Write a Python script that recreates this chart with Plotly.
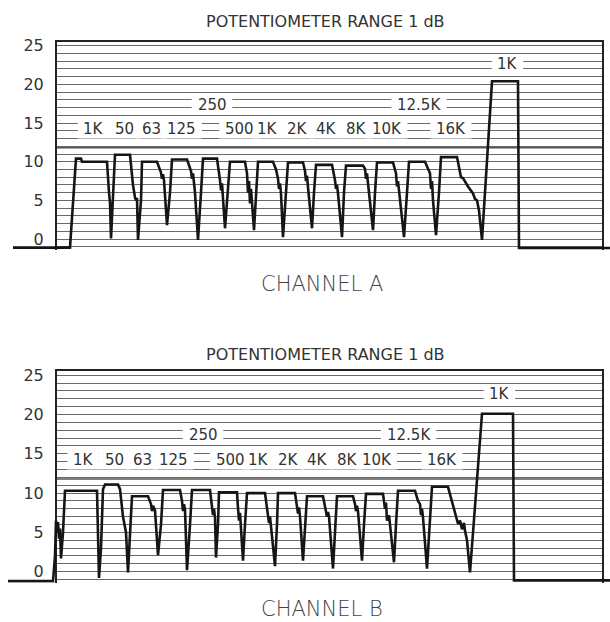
import plotly.graph_objects as go

# ---------------- data (x = chart travel, y = dB) ----------------
band_labels = ["1K", "50", "63", "125", "250", "500", "1K", "2K", "4K", "8K", "10K", "12.5K", "16K", "1K"]

a_band_start = [76, 115, 142, 172, 203, 230, 258, 288, 316, 346, 377, 409, 441, 493]
a_band_end = [107, 130, 157, 187, 217, 245, 273, 303, 332, 363, 393, 425, 457, 518]
b_band_start = [65, 105, 132, 163, 192, 219, 247, 278, 307, 337, 366, 398, 432, 482]
b_band_end = [97, 120, 148, 180, 210, 237, 265, 295, 323, 353, 383, 415, 448, 513]

trace_a_x = [13, 70, 76, 81, 82, 107, 109, 110, 111,
             113, 115, 130, 133, 135, 136, 137, 138,
             141, 142, 157, 160, 161, 162, 163, 164, 167,
             170, 172, 187, 189, 191, 192, 193, 195, 198,
             201, 203, 217, 219, 220, 221, 222, 225,
             228, 230, 245, 247, 248, 249, 250, 251, 254,
             256, 258, 273, 276, 278, 279, 280, 281, 283,
             286, 288, 303, 305, 306, 307, 308, 312,
             314, 316, 332, 334, 335, 336, 337, 338, 342,
             344, 346, 363, 365, 366, 367, 368, 373,
             375, 377, 393, 395, 396, 397, 398, 399, 404,
             407, 409, 425, 428, 430, 431, 432, 433, 436,
             439, 441, 457, 460, 461, 463, 468, 473, 475, 477, 478, 479, 482,
             487, 492, 518, 519, 610]
trace_a_y = [-1.1, -1.1, 10.4, 10.4, 10.0, 10.0, 6.0, 4.7, 0.1,
             6.0, 10.9, 10.9, 7.0, 5.4, 5.0, 5.3, -0.1,
             5.0, 10.0, 10.0, 9.0, 8.6, 7.8, 8.4, 7.6, 1.8,
             6.0, 10.3, 10.3, 9.6, 8.8, 7.8, 8.5, 6.0, -0.1,
             6.0, 10.4, 10.4, 8.8, 7.6, 6.3, 7.2, 1.4,
             6.0, 10.0, 10.0, 8.5, 6.0, 7.5, 4.6, 6.5, 1.15,
             6.0, 10.0, 10.0, 9.0, 7.8, 6.5, 7.2, 5.9, 0.25,
             6.0, 9.9, 9.9, 8.8, 7.5, 8.2, 6.7, 1.4,
             6.0, 9.6, 9.6, 8.5, 7.6, 6.5, 7.0, 5.9, 0.25,
             6.0, 9.5, 9.5, 9.1, 7.8, 8.5, 7.2, 1.15,
             6.0, 9.9, 9.9, 8.8, 8.5, 6.8, 7.5, 6.3, 0.25,
             6.0, 10.0, 10.0, 9.0, 8.5, 6.5, 7.5, 5.0, 0.5,
             6.0, 10.6, 10.6, 8.8, 8.0, 7.9, 6.8, 5.9, 5.2, 5.0, 4.2, 3.7, -0.1,
             10.0, 20.4, 20.4, -1.15, -1.15]

trace_b_x = [8, 53, 55, 56, 57, 58, 59, 60, 61, 63, 65, 97, 99,
             101, 103, 105, 118, 120, 123, 125, 126, 128,
             130, 132, 148, 151, 152, 153, 155, 158,
             161, 163, 180, 182, 183, 184, 185, 187,
             190, 192, 210, 212, 213, 214, 215, 216,
             218, 219, 237, 238, 239, 240, 241, 243,
             245, 247, 265, 268, 269, 270, 271, 275,
             277, 278, 295, 297, 298, 299, 300, 303,
             305, 307, 323, 326, 327, 328, 329, 333,
             335, 337, 353, 355, 356, 357, 358, 362,
             364, 366, 383, 384, 385, 386, 387, 389, 394,
             396, 398, 415, 418, 420, 421, 422, 423, 427,
             430, 432, 448, 452, 456, 458, 460, 462, 464, 465, 467, 470,
             476, 482, 513, 514, 610]
trace_b_y = [-1.2, -1.2, 2.0, 6.5, 5.0, 6.3, 4.2, 5.5, 1.7, 5.0, 10.3, 10.3, -0.8,
             3.0, 10.5, 11.1, 11.1, 10.5, 7.0, 5.5, 5.0, -0.1,
             5.0, 9.6, 9.6, 8.6, 7.7, 8.4, 7.8, 2.1,
             6.0, 10.4, 10.4, 9.0, 7.7, 8.6, 7.9, 0.2,
             6.0, 10.4, 10.4, 8.1, 7.2, 8.0, 6.9, 1.8,
             6.0, 10.1, 10.1, 8.1, 6.5, 7.5, 5.6, 1.4,
             6.0, 10.0, 10.0, 7.4, 6.2, 7.0, 5.6, 0.7,
             6.0, 10.0, 10.0, 8.6, 7.4, 8.2, 7.0, 1.4,
             6.0, 9.6, 9.6, 7.8, 7.0, 7.6, 7.0, 0.4,
             6.0, 9.6, 9.6, 8.6, 7.7, 8.4, 7.7, 1.4,
             6.0, 9.9, 9.9, 9.0, 8.0, 8.8, 6.5, 7.2, 1.2,
             6.0, 10.3, 10.3, 9.0, 8.6, 7.2, 8.0, 6.9, 0.4,
             6.0, 10.8, 10.8, 8.8, 7.0, 6.1, 6.5, 5.4, 6.2, 5.2, 4.0, -0.1,
             10.0, 20.1, 20.1, -1.1, -1.1]

y_ticks = [0, 5, 10, 15, 20, 25]
title_text = "POTENTIOMETER RANGE 1 dB"
channel_names = ["CHANNEL A", "CHANNEL B"]

# ---------------- styling ----------------
FONT = "DejaVu Sans"
INK = "#151515"
TXT = "#333333"
GRID = "#6a6a6a"
Y_RANGE = [-1.4, 25.5]
X_FULL = [0, 610]
FRAME_X = [57, 602]
LABEL_SIZE = 15
CHAR_EM = {"K": 0.656, ".": 0.318}

charts = [
    dict(x=trace_a_x, y=trace_a_y, bs=a_band_start, be=a_band_end,
         dom=[0.6030, 0.9403], title_y=1 - 17 / 622, chan_y=1 - 281 / 622),
    dict(x=trace_b_x, y=trace_b_y, bs=b_band_start, be=b_band_end,
         dom=[0.0637, 0.4063], title_y=1 - 352 / 622, chan_y=1 - 609 / 622),
]

fig = go.Figure()
layout = dict(width=610, height=622, margin=dict(l=0, r=0, t=0, b=0),
              paper_bgcolor="white", plot_bgcolor="rgba(0,0,0,0)",
              showlegend=False, annotations=[], shapes=[])


def label_level(i):
    if i == len(band_labels) - 1:
        return 22.6
    if band_labels[i] in ("250", "12.5K"):
        return 17.4
    return 14.2


def label_halfwidth(txt):
    # approximate rendered half-width (px == x units here) plus padding
    return 0.5 * LABEL_SIZE * sum(CHAR_EM.get(ch, 0.636) for ch in txt) + 6


for k, c in enumerate(charts):
    gx = "x" if k == 0 else "x3"
    gy = "y" if k == 0 else "y3"
    tx = "x2" if k == 0 else "x4"
    ty = "y2" if k == 0 else "y4"
    gxk = "xaxis" if k == 0 else "xaxis3"
    gyk = "yaxis" if k == 0 else "yaxis3"
    txk = "xaxis2" if k == 0 else "xaxis4"
    tyk = "yaxis2" if k == 0 else "yaxis4"

    layout[gxk] = dict(domain=[FRAME_X[0] / 610, FRAME_X[1] / 610], range=FRAME_X,
                       anchor=gy, side="top", showline=True, linecolor="#222", linewidth=2,
                       showgrid=False, zeroline=False, showticklabels=False, ticks="",
                       fixedrange=True)
    layout[gyk] = dict(domain=c["dom"], range=Y_RANGE, anchor=gx,
                       tickmode="array", tickvals=y_ticks, ticks="",
                       ticklabelstandoff=8,
                       tickfont=dict(family=FONT, size=16, color=TXT),
                       showline=True, mirror=True, linecolor="#222", linewidth=2,
                       showgrid=True, gridcolor=GRID, gridwidth=1, zeroline=False,
                       minor=dict(tickmode="linear", tick0=0, dtick=1, showgrid=True,
                                  gridcolor=GRID, gridwidth=1, ticks=""),
                       fixedrange=True)
    layout[txk] = dict(domain=[0, 1], range=X_FULL, anchor=ty, visible=False, fixedrange=True)
    layout[tyk] = dict(domain=c["dom"], range=Y_RANGE, anchor=tx, visible=False, fixedrange=True)

    layout["shapes"].append(dict(type="line", xref=gx + " domain", x0=0, x1=1,
                                 yref=gy, y0=11.8, y1=11.8,
                                 line=dict(color="#555", width=1.6), layer="below"))

    fig.add_trace(go.Scatter(x=c["x"], y=c["y"], mode="lines", xaxis=tx, yaxis=ty,
                             line=dict(color=INK, width=2.6), hoverinfo="skip"))

    for i, lab in enumerate(band_labels):
        cx = (c["bs"][i] + c["be"][i]) / 2 + 2
        lv = label_level(i)
        hw = label_halfwidth(lab)
        # white paper patch behind the lettering (breaks the ruled lines)
        layout["shapes"].append(dict(type="rect", xref=tx, yref=ty,
                                     x0=cx - hw, x1=cx + hw, y0=lv - 1.2, y1=lv + 1.2,
                                     fillcolor="white", line=dict(width=0), layer="above"))
        layout["annotations"].append(dict(
            x=cx, y=lv, xref=tx, yref=ty, text=lab, showarrow=False,
            xanchor="center", yanchor="middle",
            font=dict(family=FONT, size=LABEL_SIZE, color=TXT)))

    layout["annotations"].append(dict(
        x=0.533, y=c["title_y"], xref="paper", yref="paper", text=title_text,
        showarrow=False, xanchor="center", yanchor="middle",
        font=dict(family=FONT, size=16, color=TXT)))
    layout["annotations"].append(dict(
        x=0.528, y=c["chan_y"], xref="paper", yref="paper", text=channel_names[k],
        showarrow=False, xanchor="center", yanchor="middle",
        font=dict(family=FONT, size=21, color="#444", weight=300)))

fig.update_layout(**layout)
fig.write_html("out.html", config={"displayModeBar": False},
               post_script="document.body.style.margin='0';document.body.style.overflow='hidden';")
